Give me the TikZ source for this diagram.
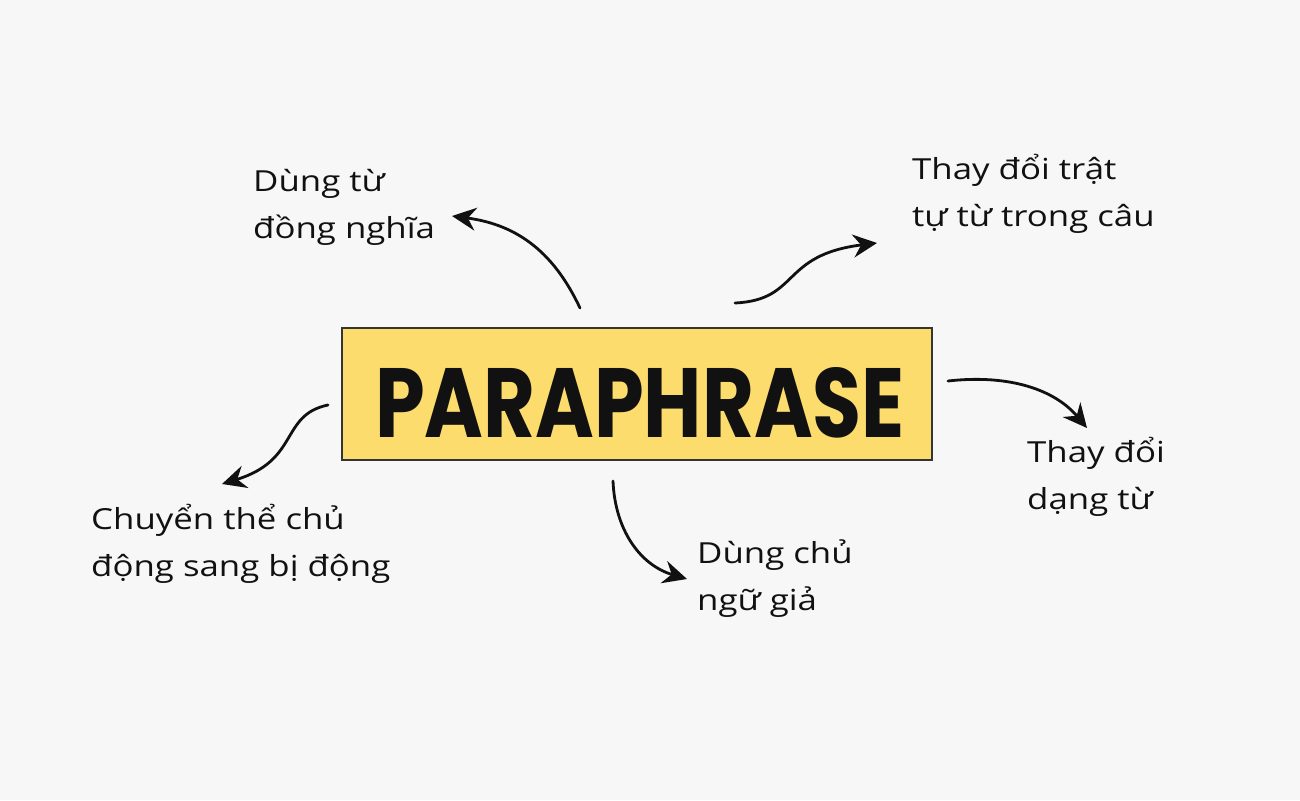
\documentclass[tikz,border=0pt]{standalone}
\usepackage{fontspec}
\setmainfont[FakeStretch=1.2]{Open Sans}
\newfontfamily\titlefont{Poppins Bold}
\usetikzlibrary{arrows.meta}
\definecolor{bg}{HTML}{F7F7F7}
\definecolor{boxyellow}{HTML}{FDDC6E}
\definecolor{ink}{HTML}{111111}
\tikzset{
  lbl/.style={anchor=base west, inner sep=0pt, align=left, text=ink,
    font=\fontsize{29}{47}\selectfont},
  arr/.style={draw=ink, line width=2.8pt, line cap=round,
    -{Stealth[length=24pt,width=23pt,inset=8pt]}},
  mainbox/.style={draw=ink!85, line width=2pt, fill=boxyellow,
    minimum width=590pt, minimum height=132pt, inner sep=0pt}
}
\begin{document}
\begin{tikzpicture}[x=1pt,y=-1pt]
\fill[bg] (0,0) rectangle (1300,800);
\useasboundingbox (0,0) rectangle (1300,800);
\node[mainbox] (main) at (637,394) {};
\node[inner sep=0pt, text=ink] (title) at (640,403)
  {\resizebox{530pt}{70pt}{\titlefont PARAPHRASE}};
% base anchor of a two-line node is the baseline of its last line
\node[lbl] (syn) at (253,238) {Dùng từ\\đồng nghĩa};
\node[lbl] (order) at (912,226) {Thay đổi trật\\tự từ trong câu};
\node[lbl] (form) at (1027,509) {Thay đổi\\dạng từ};
\node[lbl] (pass) at (91,576) {Chuyển thể chủ\\động sang bị động};
\node[lbl] (dummy) at (697,610) {Dùng chủ\\ngữ giả};
\coordinate (s1) at (580,308); \coordinate (e1) at (452,216);
\coordinate (s2) at (735,303); \coordinate (e2) at (877,243);
\coordinate (s3) at (948,381); \coordinate (e3) at (1087,428);
\coordinate (s4) at (328,405); \coordinate (e4) at (222,484);
\coordinate (s5) at (613,481); \coordinate (e5) at (687,579);
\draw[arr] (s1) .. controls (555,255) and (520,225) .. (e1);
\draw[arr] (s2) .. controls (800,300) and (780,255) .. (e2);
\draw[arr] (s3) .. controls (1010,374) and (1055,390) .. (e3);
\draw[arr] (s4) .. controls (280,415) and (300,460) .. (e4);
\draw[arr] (s5) .. controls (615,530) and (640,565) .. (e5);
\end{tikzpicture}
\end{document}
